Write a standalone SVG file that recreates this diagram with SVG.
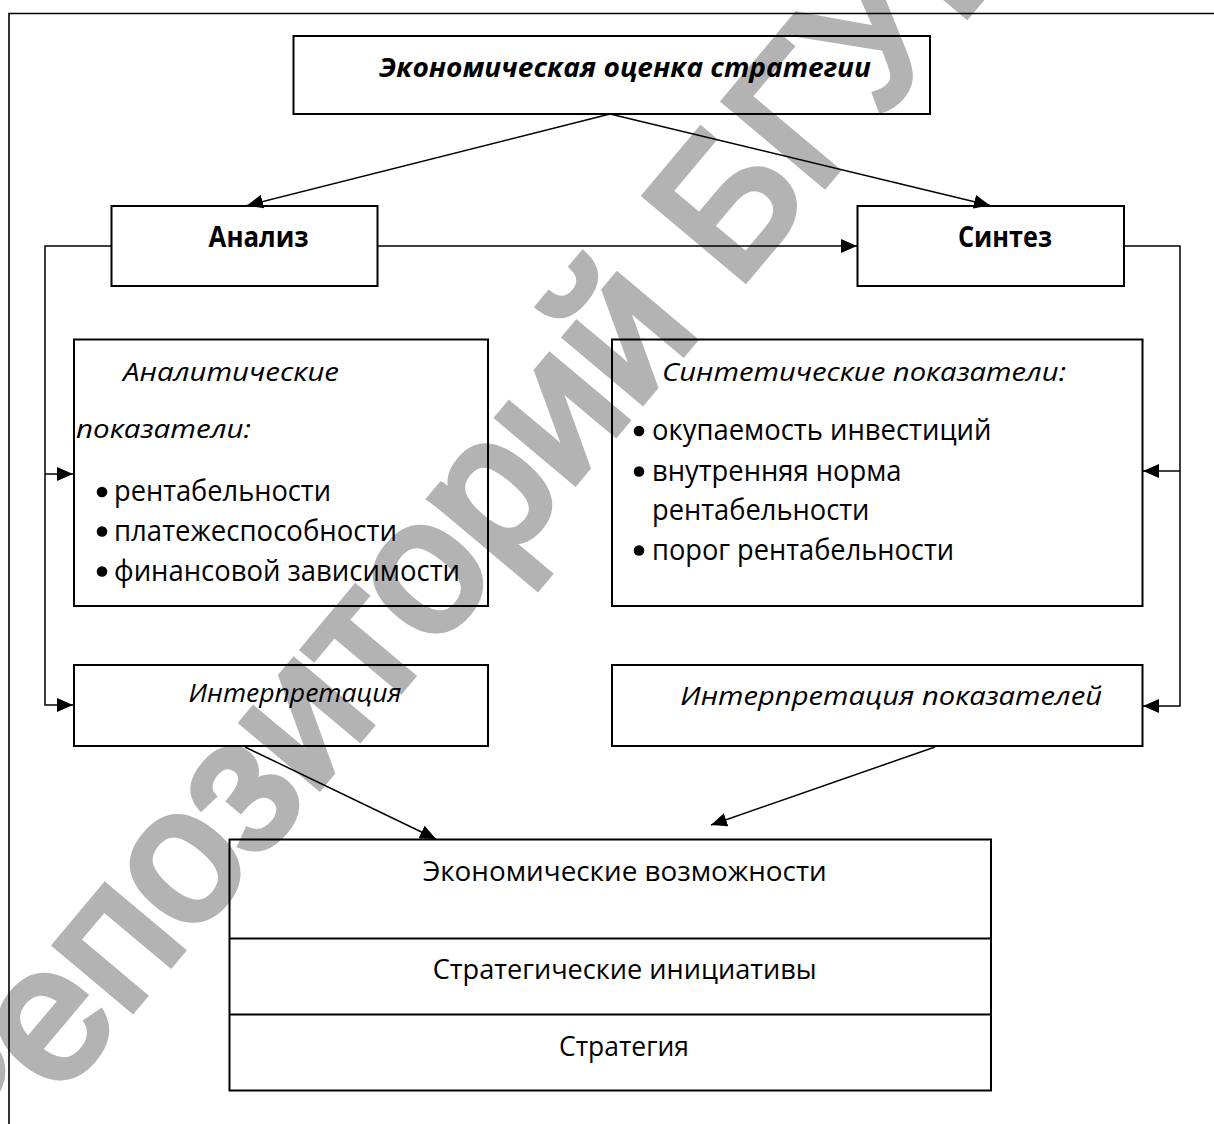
<svg xmlns="http://www.w3.org/2000/svg" width="1214" height="1124" viewBox="0 0 1214 1124">
<style>
.box{fill:none;stroke:#000;stroke-width:2}
.conn{fill:none;stroke:#000;stroke-width:1.5}
.t{font-family:"Open Sans","Noto Sans","DejaVu Sans",sans-serif;fill:#000}
.b{font-weight:bold}
.i{font-style:italic}
.s26{font-size:26px}
.s28{font-size:28px}
.s30{font-size:30px}
.wm{font-family:"Liberation Sans",Arial,sans-serif;font-size:188px;fill:#b3b3b3;stroke:#b3b3b3;stroke-width:8}
</style>
<defs>
<marker id="ah" markerUnits="userSpaceOnUse" markerWidth="16" markerHeight="14" refX="16" refY="7" orient="auto">
<path d="M0,0 L16,7 L0,14 Z" fill="#000"/>
</marker>
</defs>
<rect width="1214" height="1124" fill="#fff"/>
<text class="wm" transform="translate(-18.3,1188.6) rotate(-50)">Репозиторий БГУИР</text>
<path d="M9,1124 V13.5 H1214" fill="none" stroke="#000" stroke-width="1.6"/>

<g id="connectors">
<path class="conn" d="M610,114 L247,205.5" marker-end="url(#ah)"/>
<path class="conn" d="M610,114 L990,205.5" marker-end="url(#ah)"/>
<path class="conn" d="M378,246 H857" marker-end="url(#ah)"/>
<path class="conn" d="M111,246 H45 V705 H73" marker-end="url(#ah)"/>
<path class="conn" d="M45,474 H73" marker-end="url(#ah)"/>
<path class="conn" d="M1124,246 H1180 V706 H1143" marker-end="url(#ah)"/>
<path class="conn" d="M1180,471 H1143" marker-end="url(#ah)"/>
<path class="conn" d="M245,747 L436,839" marker-end="url(#ah)"/>
<path class="conn" d="M935,747 L711,825" marker-end="url(#ah)"/>
</g>

<g id="node-top">
<rect class="box" x="293.5" y="36" width="636.5" height="78"/>
<text class="t b i s26" x="379" y="76.5" textLength="492" lengthAdjust="spacingAndGlyphs">Экономическая оценка стратегии</text>
</g>

<g id="node-analysis">
<rect class="box" x="111.5" y="206" width="266" height="80"/>
<text class="t b s28" x="208.6" y="246.5" textLength="100" lengthAdjust="spacingAndGlyphs">Анализ</text>
</g>

<g id="node-synthesis">
<rect class="box" x="857.5" y="206" width="266.5" height="80"/>
<text class="t b s28" x="958" y="246.5" textLength="94" lengthAdjust="spacingAndGlyphs">Синтез</text>
</g>

<g id="node-analytic-indicators">
<rect class="box" x="74" y="339.5" width="414" height="266.5"/>
<text class="t i s26" x="123" y="380.5" textLength="216" lengthAdjust="spacingAndGlyphs">Аналитические</text>
<text class="t i s26" x="76" y="438" textLength="175" lengthAdjust="spacingAndGlyphs">показатели:</text>
<circle cx="102" cy="492" r="5.3"/>
<text class="t s30" x="114" y="501" textLength="217" lengthAdjust="spacingAndGlyphs">рентабельности</text>
<circle cx="102" cy="531.5" r="5.3"/>
<text class="t s30" x="114" y="540.5" textLength="283" lengthAdjust="spacingAndGlyphs">платежеспособности</text>
<circle cx="102" cy="571.5" r="5.3"/>
<text class="t s30" x="114" y="580.5" textLength="346" lengthAdjust="spacingAndGlyphs">финансовой зависимости</text>
</g>

<g id="node-synthetic-indicators">
<rect class="box" x="612" y="339.5" width="530.5" height="266.5"/>
<text class="t i s26" x="662" y="380.5" textLength="404" lengthAdjust="spacingAndGlyphs">Синтетические показатели:</text>
<circle cx="639" cy="431" r="5.3"/>
<text class="t s30" x="652" y="440" textLength="339.5" lengthAdjust="spacingAndGlyphs">окупаемость инвестиций</text>
<circle cx="639" cy="471.5" r="5.3"/>
<text class="t s30" x="652" y="480.5" textLength="249.5" lengthAdjust="spacingAndGlyphs">внутренняя норма</text>
<text class="t s30" x="652" y="520" textLength="217.4" lengthAdjust="spacingAndGlyphs">рентабельности</text>
<circle cx="639" cy="550.5" r="5.3"/>
<text class="t s30" x="652" y="559.5" textLength="302" lengthAdjust="spacingAndGlyphs">порог рентабельности</text>
</g>

<g id="node-interpretation-left">
<rect class="box" x="74" y="665" width="414" height="81"/>
<text class="t i s26" x="188.5" y="701.5" textLength="213" lengthAdjust="spacingAndGlyphs">Интерпретация</text>
</g>

<g id="node-interpretation-right">
<rect class="box" x="612" y="665" width="530.5" height="81"/>
<text class="t i s26" x="680.3" y="705" textLength="421.7" lengthAdjust="spacingAndGlyphs">Интерпретация показателей</text>
</g>

<g id="node-result">
<rect class="box" x="229.5" y="839.5" width="761.5" height="251"/>
<line class="box" x1="229.5" y1="938.5" x2="991" y2="938.5"/>
<line class="box" x1="229.5" y1="1014.5" x2="991" y2="1014.5"/>
<text class="t s28" x="422.7" y="880.5" textLength="404" lengthAdjust="spacingAndGlyphs">Экономические возможности</text>
<text class="t s28" x="432.7" y="978.5" textLength="384" lengthAdjust="spacingAndGlyphs">Стратегические инициативы</text>
<text class="t s28" x="559" y="1056" textLength="130" lengthAdjust="spacingAndGlyphs">Стратегия</text>
</g>
</svg>
